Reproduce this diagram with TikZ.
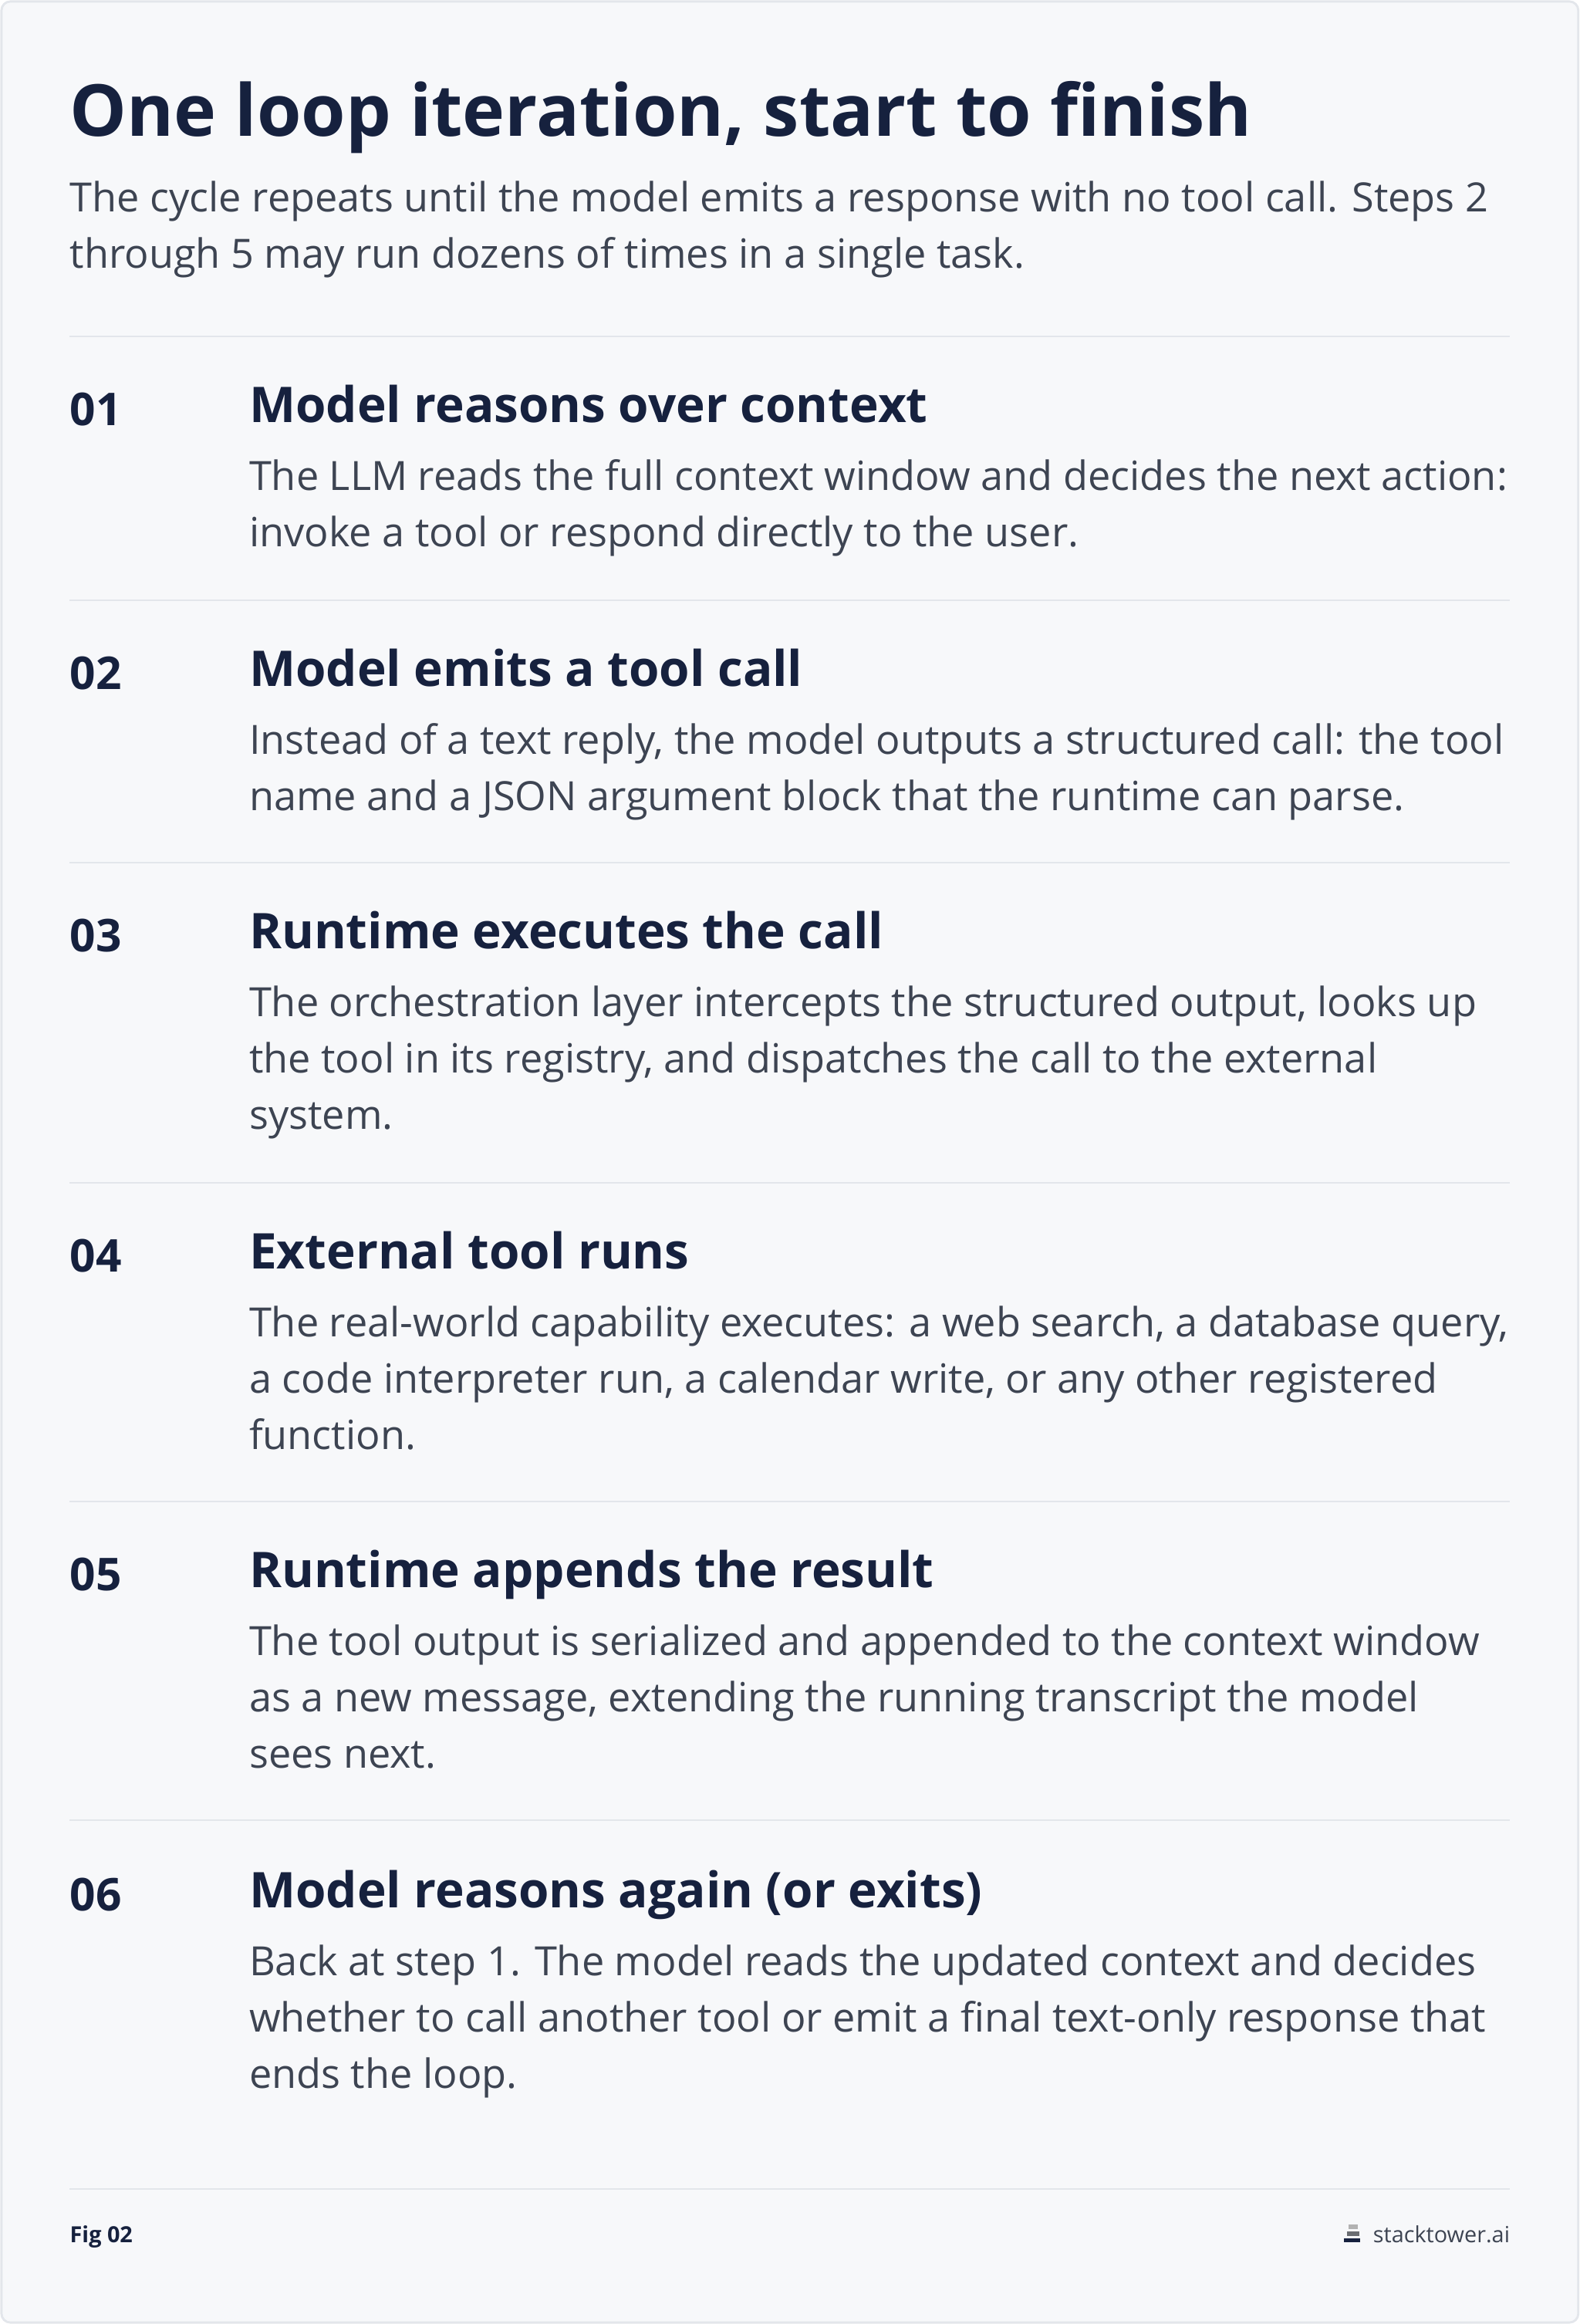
\documentclass[tikz,border=0pt]{standalone}
\usepackage{fontspec}
\setmainfont{Open Sans}
\usetikzlibrary{positioning}
\definecolor{navy}{HTML}{16213E}
\definecolor{bodygray}{HTML}{3D4452}
\definecolor{rulegray}{HTML}{E3E6EB}
\definecolor{paper}{HTML}{F7F8FA}
\tikzset{
  num/.style={anchor=base west, inner sep=0pt, text=navy, font=\fontsize{30.5}{36}\selectfont\bfseries},
  head/.style={anchor=base west, inner sep=0pt, text=navy, font=\fontsize{33.2}{40}\selectfont\bfseries},
  body/.style={anchor=base west, inner sep=0pt, text=bodygray, font=\fontsize{27.2}{38}\selectfont}
}
\newcommand{\bodytext}[1]{\parbox[t]{960pt}{\raggedright #1}}
\newcommand{\steprow}[5]{%
  \node[num] (n#1) at (47,#2+2) {#1};
  \node[head] (h#1) at (168,#2) {#3};
  \node[body] (b#1) at (168,#2+46) {\bodytext{#4}};
  \draw[rulegray, line width=1pt] (47,#5) -- (1019,#5);
}
\begin{document}
\begin{tikzpicture}[x=1pt,y=-1pt]
\useasboundingbox (0,0) rectangle (1066,1568);
\draw[rulegray, fill=paper, line width=1.5pt, rounded corners=6pt] (1,1) rectangle (1065,1567);

\node[anchor=base west, inner sep=0pt, text=navy, font=\fontsize{48.4}{60}\selectfont\bfseries] (title) at (47,92) {One loop iteration, start to finish};
\node[body] (sub) at (47,143) {\bodytext{The cycle repeats until the model emits a response with no tool call. Steps 2\\through 5 may run dozens of times in a single task.}};
\draw[rulegray, line width=1pt] (47,227) -- (1019,227);

\steprow{01}{285}{Model reasons over context}{The LLM reads the full context window and decides the next action:\\invoke a tool or respond directly to the user.}{405}
\steprow{02}{463}{Model emits a tool call}{Instead of a text reply, the model outputs a structured call: the tool\\name and a JSON argument block that the runtime can parse.}{582}
\steprow{03}{640}{Runtime executes the call}{The orchestration layer intercepts the structured output, looks up\\the tool in its registry, and dispatches the call to the external\\system.}{798}
\steprow{04}{856}{External tool runs}{The real-world capability executes: a web search, a database query,\\a code interpreter run, a calendar write, or any other registered\\function.}{1013}
\steprow{05}{1071}{Runtime appends the result}{The tool output is serialized and appended to the context window\\as a new message, extending the running transcript the model\\sees next.}{1228}
\steprow{06}{1287}{Model reasons again (or exits)}{Back at step 1. The model reads the updated context and decides\\whether to call another tool or emit a final text-only response that\\ends the loop.}{1477}

% footer
\node[anchor=base west, inner sep=0pt, text=navy, font=\fontsize{15}{18}\selectfont\bfseries] (fig) at (47,1513) {Fig 02};
\node[anchor=base east, inner sep=0pt, text=bodygray, font=\fontsize{15}{18}\selectfont] (site) at (1019,1513) {stacktower.ai};
\fill[gray!60] (910,1501) rectangle (916,1504);
\fill[gray!80!navy] (909,1505.5) rectangle (917,1508.5);
\fill[navy] (907,1510) rectangle (918,1513);
\end{tikzpicture}
\end{document}
